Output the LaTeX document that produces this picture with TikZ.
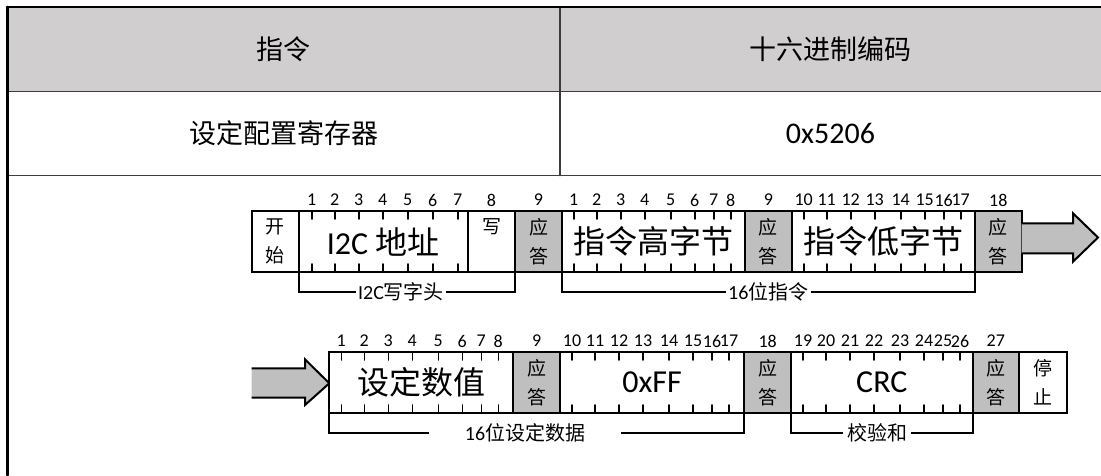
\documentclass[tikz,border=0pt]{standalone}
\usepackage{fontspec}
\usepackage{xcolor}
\setmainfont{Carlito}
\newfontfamily\cjk{Noto Sans CJK SC}
\definecolor{headgray}{RGB}{208,206,206}
\definecolor{ackgray}{RGB}{191,191,191}
\definecolor{rulegray}{RGB}{60,60,60}

\begin{document}
\begin{tikzpicture}[line cap=round,x=1pt,y=-1pt,
  field/.style={draw,line width=2pt,fill=white,anchor=north west,minimum height=61,
    inner sep=0pt,outer sep=0pt,align=center,font=\fontsize{32}{34}\selectfont},
  small/.style={font=\fontsize{19}{29}\selectfont\cjk},
  ack/.style={field,small,fill=ackgray},
  bit/.style={inner sep=0pt,font=\fontsize{18}{18}\selectfont},
  tick/.style={line width=1.6pt},
  brace/.style={line width=2pt,line cap=butt},
  span/.style={inner xsep=2pt,inner ysep=0pt,font=\fontsize{20}{20}\selectfont},
  head/.style={font=\fontsize{27}{27}\selectfont\cjk},
  blockarrow/.style={line width=2pt,fill=ackgray,line join=miter,line cap=butt}]
\useasboundingbox (0,0) rectangle (1101,475);
% table
\fill[headgray] (7,7) rectangle (1101,91.5);
\draw[rulegray,line width=1.5pt] (7,91.5) -- (1101,91.5);
\draw[rulegray,line width=1.5pt] (7,175.5) -- (1101,175.5);
\draw[rulegray,line width=1.5pt] (560,7) -- (560,175.5);
\draw[line width=2.5pt] (7,7) -- (1101,7);
\draw[line width=3pt] (7,7) -- (7,475);
\node[head] (hcmd) at (283.5,49) {指令};
\node[head] (hcode) at (830.5,49) {十六进制编码};
\node[head] (rcmd) at (283.5,133.5) {设定配置寄存器};
\node[font=\fontsize{30}{30}\selectfont] (rcode) at (830.5,133.5) {0x5206};
% first frame
\node[field,small,minimum width=47] (start) at (251.7,211) {开\\始};
\node[field,minimum width=169] (addr) at (298.7,211) {I2C {\cjk 地址}};
\node[field,small,minimum width=47.6] (wr) at (467.7,211) {写\\\phantom{写}};
\node[ack,minimum width=46.4] (ack1) at (515.3,211) {应\\答};
\node[field,minimum width=183.3] (cmdhi) at (561.7,211) {\cjk 指令高字节};
\node[ack,minimum width=46.7] (ack2) at (745,211) {应\\答};
\node[field,minimum width=183.3] (cmdlo) at (791.7,211) {\cjk 指令低字节};
\node[ack,minimum width=46.7] (ack3) at (975,211) {应\\答};
\draw[blockarrow] (1021.7,223.3) -- (1073,223.3) -- (1073,213.3) -- (1098,237.5)
  -- (1073,261.7) -- (1073,253.3) -- (1021.7,253.3);
% second frame
\draw[blockarrow] (251.7,368.3) -- (305,368.3) -- (305,359.3) -- (329.3,383.3)
  -- (305,405) -- (305,397.7) -- (251.7,397.7);
\node[field,minimum width=184] (val) at (329.3,352) {\cjk 设定数值};
\node[ack,minimum width=46.7] (ack4) at (513.3,352) {应\\答};
\node[field,minimum width=184.3] (ff) at (560,352) {0xFF};
\node[ack,minimum width=46.7] (ack5) at (744.3,352) {应\\答};
\node[field,minimum width=181.7] (crc) at (791,352) {CRC};
\node[ack,minimum width=46.3] (ack6) at (972.7,352) {应\\答};
\node[field,small,minimum width=47.7] (stop) at (1019,352) {停\\止};
% bit ticks and numbers
\foreach \dx [count=\n] in {13,36,60,84,109,134,159} {
  \draw[tick] ([xshift=\dx]addr.north west) -- ++(0,8);
  \draw[tick] ([xshift=\dx]addr.south west) -- ++(0,-8);
  \node[bit] at ([xshift=\dx,yshift=11]addr.north west) {\n};
}
\foreach \f/\s in {cmdhi/1,cmdlo/10,val/1,ff/10,crc/19} {
  \foreach \dx [count=\n from \s] in {12,35,59,83,109,133,152,169} {
    \draw[tick] ([xshift=\dx]\f.north west) -- ++(0,8);
    \draw[tick] ([xshift=\dx]\f.south west) -- ++(0,-8);
    \node[bit] at ([xshift=\dx,yshift=11]\f.north west) {\n};
  }
}
\foreach \f/\n in {wr/8,ack1/9,ack2/9,ack3/18,ack4/9,ack5/18,ack6/27}
  \node[bit] at ([yshift=11]\f.north) {\n};
% spans
\node[span] (hdrlbl) at (401,292) {I2C{\cjk 写字头}};
\draw[brace] (addr.south west) |- (hdrlbl.west);
\draw[brace] (hdrlbl.east) -| (wr.south east);
\node[span] (cmdlbl) at (768.3,292) {16{\cjk 位指令}};
\draw[brace] (cmdhi.south west) |- (cmdlbl.west);
\draw[brace] (cmdlbl.east) -| (cmdlo.south east);
\node[span,inner xsep=36pt] (datlbl) at (525,433) {16{\cjk 位设定数据}};
\draw[brace] (val.south west) |- (datlbl.west);
\draw[brace] (datlbl.east) -| (ff.south east);
\node[span,inner xsep=4pt] (crclbl) at (877,433) {\cjk 校验和};
\draw[brace] (crc.south west) |- (crclbl.west);
\draw[brace] (crclbl.east) -| (crc.south east);
\end{tikzpicture}
\end{document}
